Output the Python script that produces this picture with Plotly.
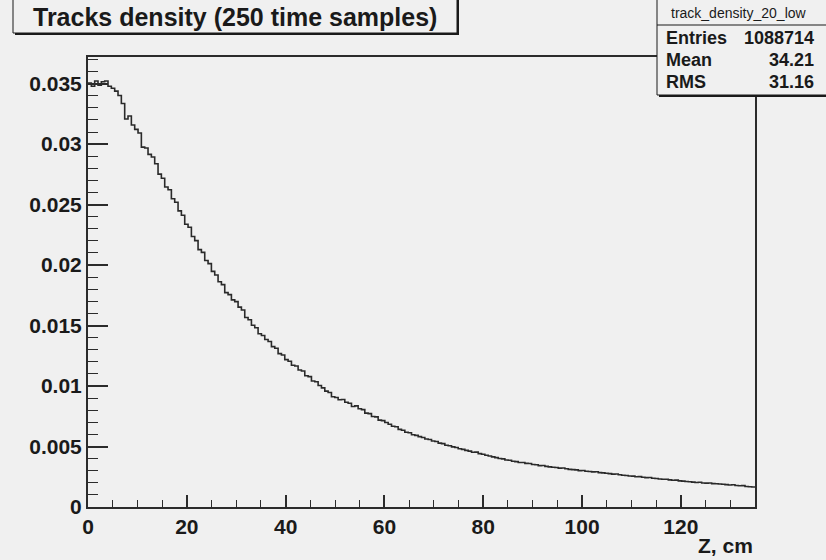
import numpy as np
import plotly.graph_objects as go

# ---------------- data ----------------
x_min, x_max = 0.0, 135.0
density = [
    0.03505, 0.03478, 0.03522, 0.03486, 0.03515, 0.03521, 0.03478, 0.03462, 0.03438, 0.03402,
    0.03335, 0.03208, 0.03232, 0.03158, 0.03122, 0.03092, 0.02975, 0.02968, 0.02915, 0.02893,
    0.02838, 0.02752, 0.02718, 0.02645, 0.02622, 0.02548, 0.02519, 0.02448, 0.02412, 0.02338,
    0.02312, 0.02236, 0.02202, 0.02128, 0.02105, 0.02038, 0.02012, 0.01948, 0.01918, 0.01862,
    0.01838, 0.01772, 0.01756, 0.01712, 0.01698, 0.01652, 0.01628, 0.01566, 0.01548, 0.01503,
    0.01482, 0.01432, 0.01418, 0.01385, 0.01368, 0.01326, 0.01312, 0.01268, 0.01256, 0.01218,
    0.01205, 0.01172, 0.01166, 0.01132, 0.01124, 0.01085, 0.01078, 0.01042, 0.01036, 0.01004,
    0.00985, 0.00958, 0.00946, 0.00912, 0.00905, 0.00886, 0.00889, 0.00866, 0.00858, 0.00831,
    0.00836, 0.00812, 0.00805, 0.00776, 0.00772, 0.00748, 0.00745, 0.00718, 0.00714, 0.00698,
    0.00684, 0.00668, 0.00663, 0.00642, 0.00635, 0.00618, 0.00614, 0.00597, 0.00592, 0.00582,
    0.00574, 0.00562, 0.00558, 0.00546, 0.00541, 0.00528, 0.00524, 0.00511, 0.00506, 0.00497,
    0.00492, 0.00481, 0.00476, 0.00468, 0.00462, 0.00452, 0.00454, 0.00441, 0.00436, 0.00428,
    0.00422, 0.00414, 0.00408, 0.00401, 0.00398, 0.00389, 0.00386, 0.00378, 0.00375, 0.00368,
    0.00368, 0.00361, 0.00359, 0.00351, 0.00349, 0.00342, 0.00343, 0.00336, 0.00332, 0.00328,
    0.00327, 0.00321, 0.00323, 0.00316, 0.00311, 0.00309, 0.00307, 0.00301, 0.00302, 0.00296,
    0.00294, 0.00290, 0.00291, 0.00284, 0.00282, 0.00279, 0.00276, 0.00272, 0.00273, 0.00267,
    0.00263, 0.00261, 0.00256, 0.00255, 0.00250, 0.00251, 0.00246, 0.00243, 0.00244, 0.00238,
    0.00236, 0.00232, 0.00229, 0.00230, 0.00224, 0.00221, 0.00222, 0.00216, 0.00214, 0.00211,
    0.00209, 0.00206, 0.00202, 0.00204, 0.00199, 0.00197, 0.00198, 0.00193, 0.00192, 0.00190,
    0.00188, 0.00185, 0.00182, 0.00184, 0.00178, 0.00176, 0.00177, 0.00170, 0.00168, 0.00165,
]
y_max = 0.0372
y_tick_values = [0, 0.005, 0.01, 0.015, 0.02, 0.025, 0.03, 0.035]
y_tick_labels = ["0", "0.005", "0.01", "0.015", "0.02", "0.025", "0.03", "0.035"]
x_tick_values = [0, 20, 40, 60, 80, 100, 120]
x_tick_labels = ["0", "20", "40", "60", "80", "100", "120"]

title_text = "Tracks density (250 time samples)"
x_title = "Z, cm"
hist_name = "track_density_20_low"
stat_names = ["Entries", "Mean", "RMS"]
stat_values = ["1088714", "34.21", "31.16"]

# ---------------- layout helpers ----------------
W, H = 826, 560
L, R, T, B = 88, 71, 57, 53
PW, PH = W - L - R, H - T - B


def px2x(px):
    return (px - L) / PW


def py2y(py):
    return (H - B - py) / PH


BG = "#f0f0f0"
INK = "#222222"
FONT = "Liberation Sans, Arial, Helvetica, sans-serif"

edges = np.linspace(x_min, x_max, len(density) + 1)
xs = list(edges[:-1]) + [edges[-1]]
ys = list(density) + [density[-1]]

fig = go.Figure()
fig.add_trace(go.Scatter(
    x=xs, y=ys, mode="lines", line_shape="hv",
    line=dict(color="#2a2a2a", width=1.6), hoverinfo="skip", showlegend=False,
))

axis_common = dict(
    showline=True, linecolor="#2b2b2b", linewidth=2, mirror=True,
    ticks="inside", tickcolor="#2b2b2b", tickwidth=1.5,
    showgrid=False, zeroline=False,
    tickfont=dict(family=FONT, size=21, color="#1a1a1a", weight="bold"),
)

fig.update_xaxes(
    range=[x_min, x_max], tickvals=x_tick_values, ticktext=x_tick_labels,
    ticklen=12,
    minor=dict(ticks="inside", ticklen=7, dtick=5, tick0=0,
               tickcolor="#2b2b2b", tickwidth=1.2, showgrid=False),
    **axis_common,
)
fig.update_yaxes(
    range=[0, y_max], tickvals=y_tick_values, ticktext=y_tick_labels,
    ticklen=20,
    minor=dict(ticks="inside", ticklen=10, dtick=0.001, tick0=0,
               tickcolor="#2b2b2b", tickwidth=1.2, showgrid=False),
    **axis_common,
)

shapes = []
annotations = []

# title box (with shadow)
shapes.append(dict(type="rect", xref="paper", yref="paper", layer="above",
                   x0=px2x(15), x1=px2x(459), y0=py2y(35), y1=py2y(-5),
                   fillcolor="#1a1a1a", line=dict(width=0)))
shapes.append(dict(type="rect", xref="paper", yref="paper", layer="above",
                   x0=px2x(13), x1=px2x(457), y0=py2y(33), y1=py2y(-5),
                   fillcolor=BG, line=dict(color="#1a1a1a", width=1)))
annotations.append(dict(xref="paper", yref="paper", x=px2x(235), y=py2y(17),
                        text=title_text, showarrow=False, xanchor="center", yanchor="middle",
                        font=dict(family=FONT, size=25, color="#1a1a1a", weight="bold")))

# stats box (with shadow)
shapes.append(dict(type="rect", xref="paper", yref="paper", layer="above",
                   x0=px2x(659), x1=px2x(840), y0=py2y(97), y1=py2y(-5),
                   fillcolor="#1a1a1a", line=dict(width=0)))
shapes.append(dict(type="rect", xref="paper", yref="paper", layer="above",
                   x0=px2x(657), x1=px2x(840), y0=py2y(95), y1=py2y(-5),
                   fillcolor=BG, line=dict(color="#1a1a1a", width=1)))
shapes.append(dict(type="line", xref="paper", yref="paper", layer="above",
                   x0=px2x(657), x1=px2x(840), y0=py2y(25), y1=py2y(25),
                   line=dict(color="#1a1a1a", width=1)))
annotations.append(dict(xref="paper", yref="paper", x=px2x(739), y=py2y(13),
                        text=hist_name, showarrow=False, xanchor="center", yanchor="middle",
                        font=dict(family=FONT, size=14, color="#1a1a1a")))
row_y = [38, 60, 82]
for name, val, ry in zip(stat_names, stat_values, row_y):
    annotations.append(dict(xref="paper", yref="paper", x=px2x(664), y=py2y(ry),
                            text=name, showarrow=False, xanchor="left", yanchor="middle",
                            font=dict(family=FONT, size=18, color="#1a1a1a", weight="bold")))
    annotations.append(dict(xref="paper", yref="paper", x=px2x(816), y=py2y(ry),
                            text=val, showarrow=False, xanchor="right", yanchor="middle",
                            font=dict(family=FONT, size=18, color="#1a1a1a", weight="bold")))

# x-axis title
annotations.append(dict(xref="paper", yref="paper", x=px2x(755), y=py2y(545),
                        text=x_title, showarrow=False, xanchor="right", yanchor="middle",
                        font=dict(family=FONT, size=21, color="#1a1a1a", weight="bold")))

fig.update_layout(
    width=W, height=H, autosize=False,
    margin=dict(l=L, r=R, t=T, b=B, pad=0),
    paper_bgcolor=BG, plot_bgcolor=BG,
    shapes=shapes, annotations=annotations,
    showlegend=False,
)

fig.write_html("out.html", config={"displayModeBar": False})
